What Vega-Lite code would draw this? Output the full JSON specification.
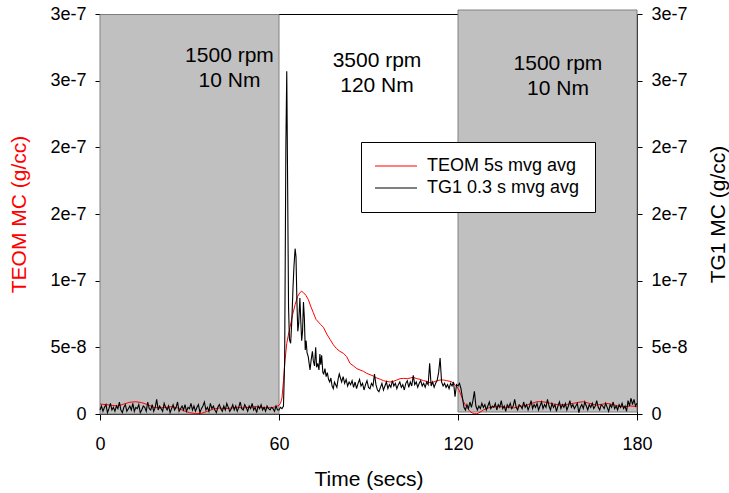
{
  "$schema": "https://vega.github.io/schema/vega-lite/v6.json",
  "width": 537,
  "height": 400,
  "autosize": {"type": "none"},
  "padding": {"left": 100, "top": 14, "right": 92, "bottom": 79},
  "background": "white",
  "config": {
    "view": {"stroke": "black", "strokeWidth": 1},
    "font": "Liberation Sans",
    "axis": {
      "grid": false,
      "labelFont": "Liberation Sans",
      "labelFontSize": 18,
      "labelColor": "black",
      "labelFlush": false,
      "labelOverlap": false,
      "titleFont": "Liberation Sans",
      "titleFontSize": 21,
      "titleFontWeight": "normal",
      "tickColor": "black",
      "domainColor": "black",
      "tickSize": 5
    },
    "legend": {
      "labelFont": "Liberation Sans",
      "labelFontSize": 18,
      "labelColor": "black"
    }
  },
  "datasets": {
    "regions": [
      {"t0": 0, "t1": 60, "v0": 0, "v1": 299.6},
      {"t0": 120, "t1": 180, "v0": 1.5, "v1": 303}
    ],
    "notes": [
      {"t": 43.4, "v": 264.2, "label": "1500 rpm\n10 Nm"},
      {"t": 92.85, "v": 260.5, "label": "3500 rpm\n120 Nm"},
      {"t": 153.5, "v": 258, "label": "1500 rpm\n10 Nm"}
    ],
    "teom": [
      {"t":0,"v":7.5},{"t":2,"v":7},{"t":4,"v":6.5},{"t":6,"v":6},{"t":8,"v":7.5},{"t":10,"v":8.8},{"t":12,"v":9.2},{"t":14,"v":8.5},{"t":16,"v":7},{"t":18,"v":5},{"t":20,"v":4.5},{"t":22,"v":5},{"t":24,"v":5.5},{"t":26,"v":4.5},{"t":28,"v":2.5},{"t":30,"v":1},{"t":32,"v":0.3},{"t":34,"v":0.5},{"t":36,"v":2},{"t":38,"v":3.7},{"t":40,"v":4.5},{"t":42,"v":4},{"t":44,"v":4.5},{"t":46,"v":5},{"t":48,"v":4.5},{"t":50,"v":5},{"t":52,"v":5.5},{"t":54,"v":5},{"t":56,"v":4.5},{"t":58,"v":5},{"t":59,"v":5.5},{"t":60,"v":6.5},{"t":60.5,"v":8},{"t":61,"v":12},{"t":61.5,"v":25},{"t":62,"v":40},{"t":62.6,"v":53},{"t":63.2,"v":60},{"t":63.7,"v":65},{"t":64.5,"v":74},{"t":65.4,"v":82},{"t":66.2,"v":88},{"t":67,"v":91},{"t":67.6,"v":92},{"t":68.2,"v":91},{"t":69,"v":89},{"t":69.8,"v":86},{"t":70.6,"v":81},{"t":71.5,"v":76},{"t":72.4,"v":71},{"t":73.2,"v":69},{"t":74,"v":67},{"t":74.9,"v":65},{"t":76,"v":60},{"t":77.1,"v":56},{"t":78.2,"v":52},{"t":79.3,"v":49},{"t":80.4,"v":47},{"t":81.6,"v":45.5},{"t":82.7,"v":43},{"t":83.8,"v":38},{"t":85,"v":36},{"t":86.1,"v":34},{"t":87.2,"v":33},{"t":88.3,"v":32},{"t":89.4,"v":30.5},{"t":90.5,"v":29.5},{"t":91.6,"v":28.5},{"t":92.8,"v":27},{"t":94,"v":26},{"t":95,"v":25},{"t":96,"v":24.5},{"t":97.2,"v":24},{"t":98.3,"v":24.5},{"t":99.5,"v":25.5},{"t":100.6,"v":26.5},{"t":101.7,"v":26.7},{"t":103,"v":26.5},{"t":104,"v":27},{"t":105,"v":27.5},{"t":106.2,"v":26.5},{"t":107.3,"v":26},{"t":108.4,"v":25},{"t":109.5,"v":24.5},{"t":110.6,"v":23.5},{"t":111.8,"v":24},{"t":113,"v":25},{"t":114,"v":25.5},{"t":115.1,"v":25.5},{"t":116.2,"v":25},{"t":117.3,"v":24.5},{"t":118,"v":24},{"t":119,"v":22},{"t":119.6,"v":20.5},{"t":120.2,"v":18.5},{"t":120.7,"v":16},{"t":121.3,"v":12.5},{"t":121.8,"v":9.5},{"t":122.4,"v":7},{"t":122.9,"v":5.5},{"t":123.5,"v":3.5},{"t":124,"v":2},{"t":124.7,"v":0.8},{"t":125.5,"v":0.3},{"t":126.3,"v":0.2},{"t":127,"v":0.8},{"t":127.8,"v":2},{"t":128.5,"v":3},{"t":129.6,"v":4.2},{"t":131,"v":5},{"t":132.5,"v":5.5},{"t":134,"v":5.5},{"t":136,"v":5},{"t":138.5,"v":4.5},{"t":140.5,"v":5.5},{"t":143,"v":6.7},{"t":145,"v":8.2},{"t":146.5,"v":9.2},{"t":148,"v":9.3},{"t":149.7,"v":8.7},{"t":152,"v":7.5},{"t":154.2,"v":6.7},{"t":156.5,"v":7.2},{"t":158.7,"v":8},{"t":160.5,"v":8.8},{"t":162,"v":9.2},{"t":164,"v":8},{"t":166.5,"v":6.7},{"t":168,"v":7.2},{"t":169.8,"v":8},{"t":172,"v":7},{"t":174.3,"v":5.5},{"t":176,"v":5.5},{"t":177.7,"v":6},{"t":179,"v":5.8},{"t":180,"v":5.5}
    ],
    "tg1": [
      {"t":0,"v":3},{"t":0.5,"v":6},{"t":1,"v":2},{"t":1.5,"v":5},{"t":2,"v":7},{"t":2.5,"v":1},{"t":3,"v":4},{"t":3.5,"v":8},{"t":4,"v":3},{"t":4.5,"v":5},{"t":5,"v":2},{"t":5.5,"v":6},{"t":6,"v":4},{"t":6.5,"v":9},{"t":7,"v":3},{"t":7.5,"v":1},{"t":8,"v":5},{"t":8.5,"v":7},{"t":9,"v":2},{"t":9.5,"v":4},{"t":10,"v":6},{"t":10.5,"v":3},{"t":11,"v":8},{"t":11.5,"v":2},{"t":12,"v":5},{"t":12.5,"v":4},{"t":13,"v":7},{"t":13.5,"v":1},{"t":14,"v":3},{"t":14.5,"v":6},{"t":15,"v":5},{"t":15.5,"v":2},{"t":16,"v":9},{"t":16.5,"v":4},{"t":17,"v":3},{"t":17.5,"v":7},{"t":18,"v":2},{"t":18.5,"v":5},{"t":19,"v":11},{"t":19.5,"v":3},{"t":20,"v":6},{"t":20.5,"v":4},{"t":21,"v":2},{"t":21.5,"v":8},{"t":22,"v":5},{"t":22.5,"v":3},{"t":23,"v":6},{"t":23.5,"v":1},{"t":24,"v":4},{"t":24.5,"v":7},{"t":25,"v":3},{"t":25.5,"v":5},{"t":26,"v":9},{"t":26.5,"v":2},{"t":27,"v":4},{"t":27.5,"v":6},{"t":28,"v":3},{"t":28.5,"v":7},{"t":29,"v":2},{"t":29.5,"v":5},{"t":30,"v":4},{"t":30.5,"v":8},{"t":31,"v":3},{"t":31.5,"v":6},{"t":32,"v":2},{"t":32.5,"v":5},{"t":33,"v":7},{"t":33.5,"v":1},{"t":34,"v":4},{"t":34.5,"v":6},{"t":35,"v":9},{"t":35.5,"v":3},{"t":36,"v":5},{"t":36.5,"v":2},{"t":37,"v":8},{"t":37.5,"v":4},{"t":38,"v":6},{"t":38.5,"v":3},{"t":39,"v":1},{"t":39.5,"v":5},{"t":40,"v":7},{"t":40.5,"v":4},{"t":41,"v":2},{"t":41.5,"v":6},{"t":42,"v":3},{"t":42.5,"v":8},{"t":43,"v":5},{"t":43.5,"v":2},{"t":44,"v":4},{"t":44.5,"v":7},{"t":45,"v":3},{"t":45.5,"v":6},{"t":46,"v":2},{"t":46.5,"v":5},{"t":47,"v":9},{"t":47.5,"v":4},{"t":48,"v":3},{"t":48.5,"v":7},{"t":49,"v":5},{"t":49.5,"v":2},{"t":50,"v":6},{"t":50.5,"v":4},{"t":51,"v":8},{"t":51.5,"v":3},{"t":52,"v":5},{"t":52.5,"v":1},{"t":53,"v":6},{"t":53.5,"v":4},{"t":54,"v":7},{"t":54.5,"v":3},{"t":55,"v":5},{"t":55.5,"v":2},{"t":56,"v":6},{"t":56.5,"v":4},{"t":57,"v":3},{"t":57.5,"v":5},{"t":58,"v":4},{"t":58.5,"v":2},{"t":59,"v":6},{"t":59.5,"v":3},{"t":60,"v":3},{"t":60.5,"v":5},
      {"t":61,"v":4},{"t":61.5,"v":6},{"t":61.9,"v":40},{"t":62.3,"v":200},{"t":62.6,"v":257},{"t":62.9,"v":170},{"t":63.2,"v":80},{"t":63.5,"v":56},{"t":63.9,"v":53},{"t":64.3,"v":70},{"t":64.7,"v":95},{"t":65,"v":110},{"t":65.4,"v":124},{"t":65.7,"v":118},{"t":66,"v":85},{"t":66.3,"v":62},{"t":66.6,"v":68},{"t":67,"v":87},{"t":67.3,"v":70},{"t":67.6,"v":55},{"t":67.9,"v":62},{"t":68.2,"v":84},{"t":68.5,"v":72},{"t":68.8,"v":48},{"t":69.1,"v":55},{"t":69.4,"v":46},{"t":69.8,"v":43},{"t":70.1,"v":38},{"t":70.4,"v":33},{"t":70.8,"v":41},{"t":71.2,"v":47},{"t":71.5,"v":40},{"t":71.9,"v":36},{"t":72.3,"v":50},{"t":72.6,"v":35},{"t":73,"v":38},{"t":73.4,"v":33},{"t":73.7,"v":45},{"t":74,"v":37},{"t":74.3,"v":44},{"t":74.7,"v":31},{"t":75,"v":30},{"t":75.4,"v":34},{"t":75.8,"v":28},{"t":76.2,"v":31},{"t":76.6,"v":26},{"t":77,"v":24},{"t":77.4,"v":27},{"t":77.8,"v":21},{"t":78.2,"v":19},{"t":78.6,"v":24},{"t":79,"v":22},{"t":79.4,"v":20},{"t":79.8,"v":26},{"t":80.2,"v":30},{"t":80.6,"v":27},{"t":81,"v":24},{"t":81.5,"v":28},{"t":82,"v":23},{"t":82.5,"v":26},{"t":83,"v":21},{"t":83.5,"v":24},
      {"t":84,"v":22},{"t":84.5,"v":25},{"t":85,"v":20},{"t":85.5,"v":24},{"t":86,"v":19},{"t":86.5,"v":23},{"t":87,"v":26},{"t":87.5,"v":21},{"t":88,"v":23},{"t":88.5,"v":18},{"t":89,"v":22},{"t":89.5,"v":25},{"t":90,"v":20},{"t":90.5,"v":19},{"t":91,"v":23},{"t":91.5,"v":21},{"t":92,"v":30},{"t":92.5,"v":22},{"t":93,"v":18},{"t":93.5,"v":16.7},{"t":94,"v":20},{"t":94.5,"v":23},{"t":95,"v":18},{"t":95.5,"v":21},{"t":96,"v":24},{"t":96.5,"v":19},{"t":97,"v":22},{"t":97.5,"v":20},{"t":98,"v":25},{"t":98.5,"v":21},{"t":99,"v":23},{"t":99.5,"v":19},{"t":100,"v":22},{"t":100.5,"v":24},{"t":101,"v":20},{"t":101.5,"v":22},{"t":102,"v":18},{"t":102.5,"v":23},{"t":103,"v":25},{"t":103.5,"v":20},{"t":104,"v":24},{"t":104.5,"v":21},{"t":105,"v":29},{"t":105.5,"v":22},{"t":106,"v":24},{"t":106.5,"v":20},{"t":107,"v":23},{"t":107.5,"v":25},{"t":108,"v":21},{"t":108.5,"v":23},{"t":109,"v":20},{"t":109.5,"v":24},{"t":110,"v":22},{"t":110.5,"v":38},{"t":111,"v":21},{"t":111.5,"v":24},{"t":112,"v":20},{"t":112.5,"v":23},{"t":113,"v":25},{"t":113.5,"v":31},{"t":114,"v":42},{"t":114.5,"v":24},{"t":115,"v":21},{"t":115.5,"v":23},{"t":116,"v":20},{"t":116.5,"v":22},{"t":117,"v":19},{"t":117.5,"v":23},{"t":118,"v":21},{"t":118.5,"v":24},{"t":119,"v":13},{"t":119.5,"v":22},{"t":120,"v":21},{"t":120.5,"v":23},{"t":121,"v":19},{"t":121.5,"v":12},{"t":122,"v":5},{"t":122.5,"v":3},{"t":123,"v":7},{"t":123.5,"v":4},{"t":124,"v":9},{"t":124.5,"v":5},{"t":125,"v":10},{"t":125.5,"v":17},{"t":126,"v":6},{"t":126.5,"v":3},
      {"t":127,"v":6},{"t":127.5,"v":4},{"t":128,"v":8},{"t":128.5,"v":5},{"t":129,"v":7},{"t":129.5,"v":3},{"t":130,"v":6},{"t":130.5,"v":9},{"t":131,"v":4},{"t":131.5,"v":6},{"t":132,"v":5},{"t":132.5,"v":8},{"t":133,"v":3},{"t":133.5,"v":7},{"t":134,"v":5},{"t":134.5,"v":10},{"t":135,"v":4},{"t":135.5,"v":6},{"t":136,"v":2},{"t":136.5,"v":7},{"t":137,"v":5},{"t":137.5,"v":8},{"t":138,"v":4},{"t":138.5,"v":6},{"t":139,"v":11},{"t":139.5,"v":5},{"t":140,"v":3},{"t":140.5,"v":7},{"t":141,"v":6},{"t":141.5,"v":4},{"t":142,"v":9},{"t":142.5,"v":5},{"t":143,"v":7},{"t":143.5,"v":3},{"t":144,"v":6},{"t":144.5,"v":10},{"t":145,"v":4},{"t":145.5,"v":7},{"t":146,"v":5},{"t":146.5,"v":8},{"t":147,"v":3},{"t":147.5,"v":6},{"t":148,"v":9},{"t":148.5,"v":4},{"t":149,"v":7},{"t":149.5,"v":5},{"t":150,"v":11},{"t":150.5,"v":6},{"t":151,"v":3},{"t":151.5,"v":8},{"t":152,"v":5},{"t":152.5,"v":7},{"t":153,"v":2},{"t":153.5,"v":6},{"t":154,"v":9},{"t":154.5,"v":4},{"t":155,"v":7},{"t":155.5,"v":5},{"t":156,"v":8},{"t":156.5,"v":3},{"t":157,"v":6},{"t":157.5,"v":10},{"t":158,"v":5},{"t":158.5,"v":7},{"t":159,"v":4},{"t":159.5,"v":6},{"t":160,"v":8},{"t":160.5,"v":1},{"t":161,"v":5},{"t":161.5,"v":7},{"t":162,"v":4},{"t":162.5,"v":9},{"t":163,"v":6},{"t":163.5,"v":3},{"t":164,"v":7},{"t":164.5,"v":5},{"t":165,"v":8},{"t":165.5,"v":4},{"t":166,"v":6},{"t":166.5,"v":10},{"t":167,"v":5},{"t":167.5,"v":3},{"t":168,"v":7},{"t":168.5,"v":6},{"t":169,"v":4},{"t":169.5,"v":8},{"t":170,"v":5},{"t":170.5,"v":2},{"t":171,"v":7},{"t":171.5,"v":5},{"t":172,"v":9},{"t":172.5,"v":4},{"t":173,"v":6},{"t":173.5,"v":3},{"t":174,"v":7},{"t":174.5,"v":5},{"t":175,"v":8},{"t":175.5,"v":4},{"t":176,"v":6},{"t":176.5,"v":2},{"t":177,"v":10},{"t":177.5,"v":6},{"t":178,"v":12},{"t":178.5,"v":7},{"t":179,"v":11},{"t":179.5,"v":6},{"t":180,"v":8}
    ]
  },
  "layer": [
    {
      "layer": [
        {
          "data": {"name": "regions"},
          "mark": {"type": "rect", "fill": "#c0c0c0", "stroke": "#808080", "strokeWidth": 1},
          "encoding": {
            "x": {"field": "t0", "type": "quantitative", "title": "Time (secs)",
                  "scale": {"domain": [0, 180], "nice": false},
                  "axis": {"values": [0, 60, 120, 180], "tickSize": 6, "labelPadding": 15, "titlePadding": 15, "titleColor": "black"}},
            "x2": {"field": "t1"},
            "y": {"field": "v0", "type": "quantitative", "title": "TEOM MC (g/cc)",
                  "scale": {"domain": [0, 300], "nice": false},
                  "axis": {"orient": "left", "values": [0, 50, 100, 150, 200, 250, 300], "titleColor": "#ff0000", "labelPadding": 9, "titlePadding": 20,
                           "labelExpr": "datum.value == 0 ? '0' : datum.value == 50 ? '5e-8' : datum.value == 100 ? '1e-7' : datum.value <= 200 ? '2e-7' : '3e-7'"}},
            "y2": {"field": "v1"}
          }
        },
        {
          "data": {"name": "notes"},
          "mark": {"type": "text", "font": "Liberation Sans", "fontSize": 21, "align": "center", "baseline": "alphabetic", "lineBreak": "\n", "lineHeight": 25, "color": "black"},
          "encoding": {
            "x": {"field": "t", "type": "quantitative", "title": "Time (secs)"},
            "y": {"field": "v", "type": "quantitative", "title": "TEOM MC (g/cc)"},
            "text": {"field": "label"}
          }
        },
        {
          "data": {"name": "teom"},
          "mark": {"type": "line", "strokeWidth": 1},
          "encoding": {
            "x": {"field": "t", "type": "quantitative", "title": "Time (secs)"},
            "y": {"field": "v", "type": "quantitative", "title": "TEOM MC (g/cc)"},
            "color": {"datum": "TEOM 5s mvg avg", "type": "nominal",
                      "scale": {"domain": ["TEOM 5s mvg avg", "TG1 0.3 s mvg avg"], "range": ["#ff0000", "#000000"]},
                      "legend": {"title": null, "orient": "none", "legendX": 261, "legendY": 128,
                                 "strokeColor": "black", "fillColor": "white", "padding": 15, "rowPadding": 4,
                                 "symbolType": "M-3,0H3", "symbolSize": 196, "symbolStrokeWidth": 1,
                                 "symbolOffset": 11, "labelOffset": 22, "labelFontSize": 18}}
          }
        }
      ]
    },
    {
      "data": {"name": "tg1"},
      "mark": {"type": "line", "strokeWidth": 1.1},
      "encoding": {
        "x": {"field": "t", "type": "quantitative", "title": "Time (secs)"},
        "y": {"field": "v", "type": "quantitative", "title": "TG1 MC (g/cc)",
              "scale": {"domain": [0, 300], "nice": false},
              "axis": {"orient": "right", "values": [0, 50, 100, 150, 200, 250, 300], "titleColor": "black", "labelPadding": 9, "titlePadding": 20,
                       "titleAngle": 270, "titleBaseline": "top",
                       "labelExpr": "datum.value == 0 ? '0' : datum.value == 50 ? '5e-8' : datum.value == 100 ? '1e-7' : datum.value <= 200 ? '2e-7' : '3e-7'"}},
        "color": {"datum": "TG1 0.3 s mvg avg", "type": "nominal"}
      }
    }
  ],
  "resolve": {"scale": {"y": "independent"}}
}
